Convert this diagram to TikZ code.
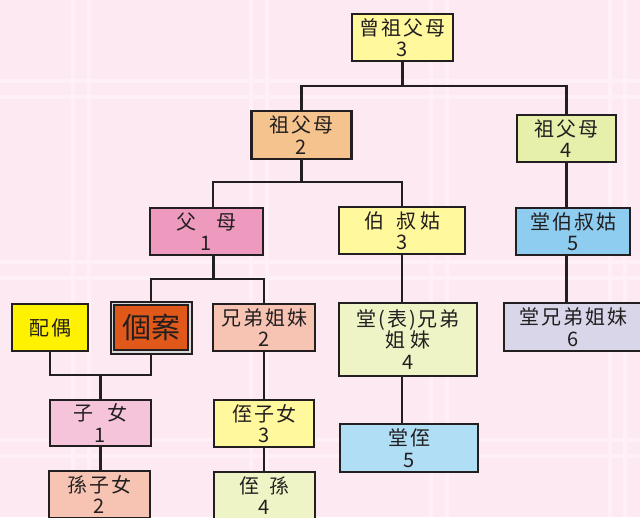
\documentclass[tikz,border=0pt]{standalone}
\usepackage{fontspec}
\newfontfamily\cjk[LetterSpace=10]{Noto Sans CJK TC}
\newfontfamily\cjkbig{Noto Sans CJK TC}
\usetikzlibrary{calc}
\definecolor{bg}{HTML}{FDE9F2}
\definecolor{bgline}{HTML}{FEF0F6}
\definecolor{lc}{HTML}{231F20}
\definecolor{cyel}{HTML}{FFF89C}
\definecolor{cpeach}{HTML}{F5C48E}
\definecolor{cgreen}{HTML}{E6F0AA}
\definecolor{cpink}{HTML}{EE9ABF}
\definecolor{cblue}{HTML}{8ECDF0}
\definecolor{cspouse}{HTML}{FFF200}
\definecolor{cself}{HTML}{E0581A}
\definecolor{csalmon}{HTML}{F7C4B4}
\definecolor{cpalegreen}{HTML}{EEF4C6}
\definecolor{clav}{HTML}{DAD6EA}
\definecolor{clpink}{HTML}{F5C4DB}
\definecolor{clblue}{HTML}{B0DEF5}
\begin{document}
\begin{tikzpicture}[x=1pt,y=-1pt,
  box/.style={draw=lc, line width=2.2pt, inner sep=0pt, align=center,
    font=\cjk\fontsize{20}{21.5}\selectfont, text=lc},
  conn/.style={draw=lc, line width=2.2pt},
  bgl/.style={draw=bgline, line width=4pt}]
\clip (0,0) rectangle (640,517);
\fill[bg] (0,0) rectangle (640,517);
% background tile lines
\foreach \x in {73,89,251,267,431,447,610,625} \draw[bgl] (\x,0) -- (\x,517);
\foreach \y in {81,97,262,278,440,456} \draw[bgl] (0,\y) -- (640,\y);

% nodes
\node[box, fill=cyel, minimum width=101pt, minimum height=47pt] (ggp) at (402.5,37.5) {曾祖父母\\3};
\node[box, fill=cpeach, minimum width=100pt, minimum height=48pt] (gpa) at (301.5,135) {祖父母\\2};
\node[box, fill=cgreen, minimum width=99pt, minimum height=47pt] (gpb) at (566.5,138.5) {祖父母\\4};
\node[box, fill=cpink, minimum width=113pt, minimum height=47pt] (par) at (206.5,231.5) {父\hspace{1em}母\\1};
\node[box, fill=cyel, minimum width=126pt, minimum height=47pt] (unc) at (402,230.5) {伯\hspace{0.6em}叔\hspace{0.2em}姑\\3};
\node[box, fill=cblue, minimum width=114pt, minimum height=47pt] (gunc) at (573,231.5) {堂伯叔姑\\5};
\node[box, fill=cspouse, minimum width=76pt, minimum height=47pt] (sp) at (50,327.5) {配偶};
\node[draw=lc, line width=2pt, fill=white!70!gray, minimum width=81pt, minimum height=52pt, inner sep=0pt] (selfo) at (151,327.5) {};
\node[box, fill=cself, line width=2pt, minimum width=74pt, minimum height=45pt,
  font=\cjkbig\fontsize{29}{30}\selectfont] (self) at (151,327.5) {個案};
\node[box, fill=csalmon, minimum width=102pt, minimum height=47pt] (sib) at (264,327.5) {兄弟姐妹\\2};
\node[box, fill=cpalegreen, minimum width=138pt, minimum height=73pt] (cous) at (408,339.5) {堂(表)兄弟\\姐\hspace{0.25em}妹\\4};
\node[box, fill=clav, minimum width=139pt, minimum height=48pt] (gcous) at (573.5,327) {堂兄弟姐妹\\6};
\node[box, fill=clpink, minimum width=101pt, minimum height=46pt] (child) at (100.5,423) {子\hspace{0.7em}女\\1};
\node[box, fill=cyel, minimum width=100pt, minimum height=47pt] (niece) at (264,423.5) {侄子女\\3};
\node[box, fill=csalmon, minimum width=101pt, minimum height=47pt] (gchild) at (99.5,494.5) {孫子女\\2};
\node[box, fill=cpalegreen, minimum width=101pt, minimum height=47pt] (gniece) at (264.5,495.5) {侄\hspace{0.5em}孫\\4};
\node[box, fill=clblue, minimum width=138pt, minimum height=48pt] (cniece) at (409,448) {堂侄\\5};

% connectors
\coordinate (j1) at ($(ggp.south)+(0,24)$);
\draw[conn] (ggp.south) -- (j1);
\draw[conn] (gpa.north) |- (j1) -| (gpb.north);
\coordinate (j2) at ($(gpa.south)+(0,22)$);
\draw[conn] (gpa.south) -- (j2);
\draw[conn] ([xshift=6.5pt]par.north) |- (j2) -| (unc.north);
\coordinate (j3) at ($([xshift=7pt]par.south)+(0,23)$);
\draw[conn] ([xshift=7pt]par.south) -- (j3);
\draw[conn] (selfo.north) |- (j3) -| (sib.north);
\draw[conn] (unc.south) -- (unc.south |- cous.north);
\draw[conn] (unc.south |- cous.south) -- (unc.south |- cniece.north);
\draw[conn] (gpb.south) -- (gpb.south |- gunc.north);
\draw[conn] (gpb.south |- gunc.south) -- (gpb.south |- gcous.north);
\coordinate (j4) at ($(sp.south)+(0,23)$);
\draw[conn] (sp.south) -- (j4) -| (selfo.south);
\draw[conn] (child.north |- j4) -- (child.north);
\draw[conn] (child.south) -- (child.south |- gchild.north);
\draw[conn] (sib.south) -- (niece.north);
\draw[conn] (niece.south) -- (niece.south |- gniece.north);
\end{tikzpicture}
\end{document}
